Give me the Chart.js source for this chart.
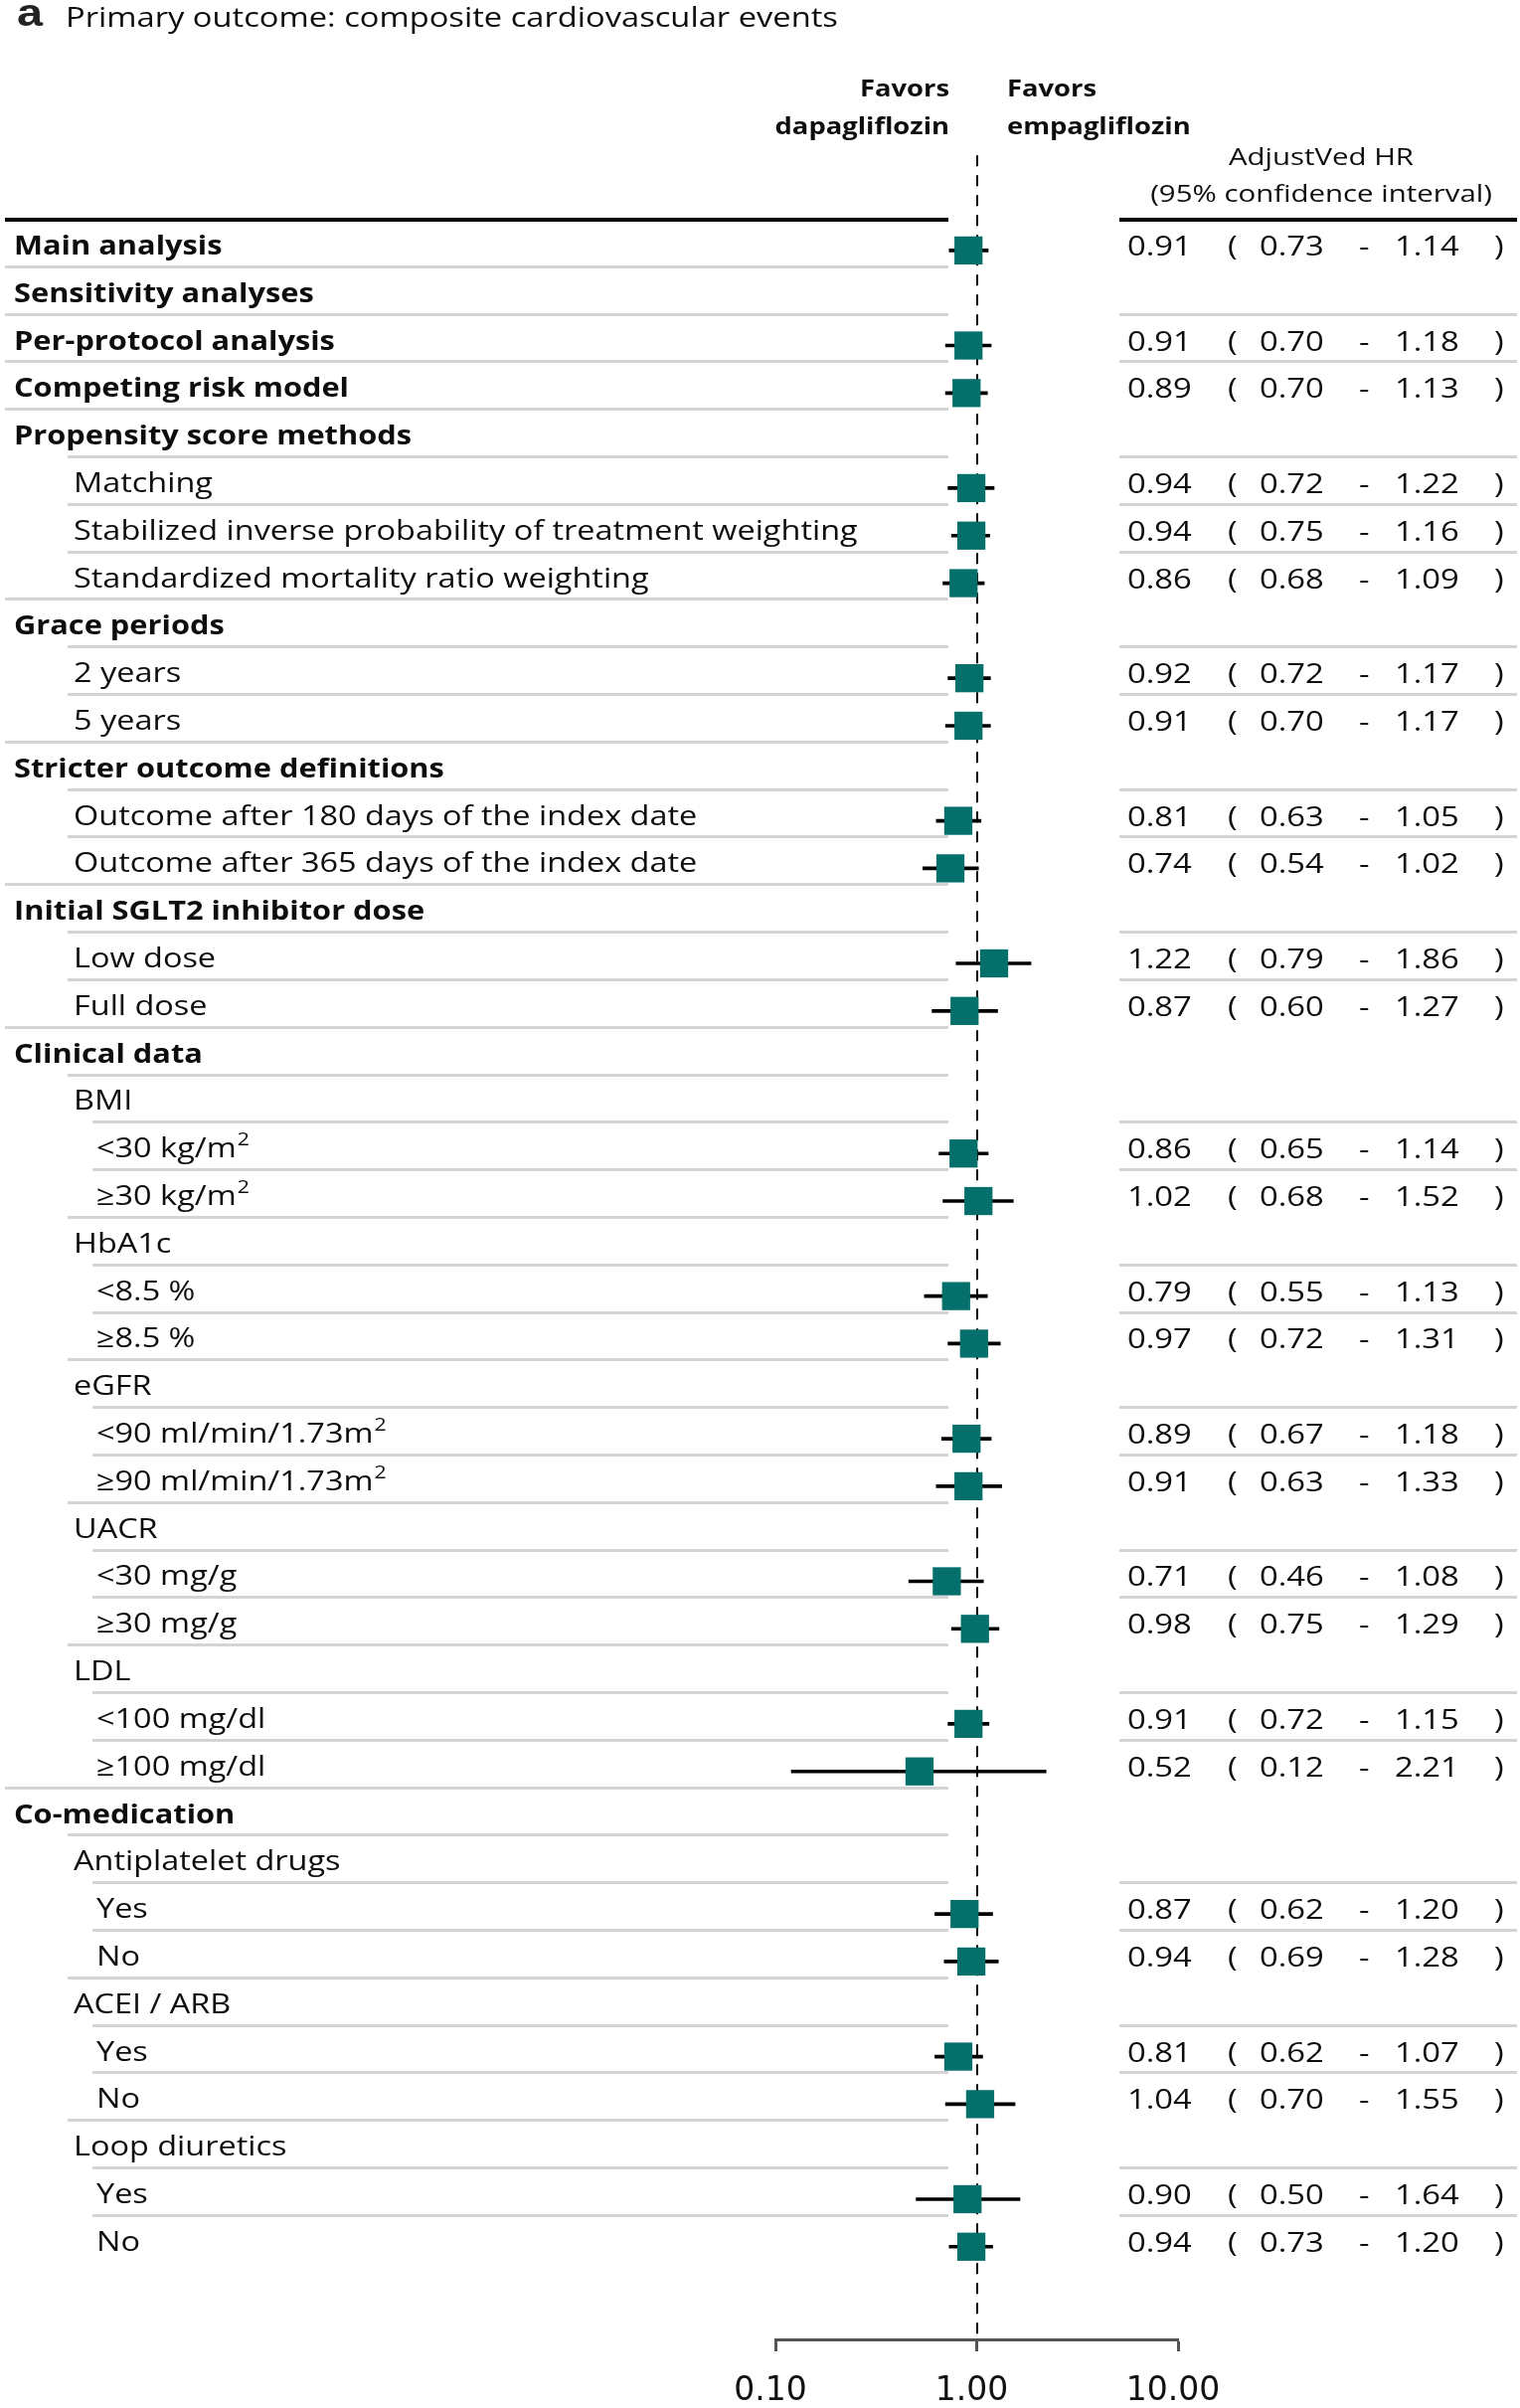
<!DOCTYPE html>
<html>
<head>
<meta charset="utf-8">
<script src="https://cdn.jsdelivr.net/npm/chart.js@4.4.0/dist/chart.umd.min.js"></script>
<style>
html, body { margin: 0; padding: 0; background: #fff; }
#wrap { width: 1529px; height: 2422px; position: relative; }
</style>
</head>
<body>
<div id="wrap"><canvas id="c" width="1529" height="2422"></canvas></div>
<script>
// ---------------- DATA ----------------
const panelLetter = 'a';
const titleText = 'Primary outcome: composite cardiovascular events';
const leftHeader = ['Favors', 'dapagliflozin'];
const rightHeader = ['Favors', 'empagliflozin'];
const columnHeader = ['AdjustVed HR', '(95% confidence interval)'];

const rowLabels = [
  'Main analysis',
  'Sensitivity analyses',
  'Per-protocol analysis',
  'Competing risk model',
  'Propensity score methods',
  'Matching',
  'Stabilized inverse probability of treatment weighting',
  'Standardized mortality ratio weighting',
  'Grace periods',
  '2 years',
  '5 years',
  'Stricter outcome definitions',
  'Outcome after 180 days of the index date',
  'Outcome after 365 days of the index date',
  'Initial SGLT2 inhibitor dose',
  'Low dose',
  'Full dose',
  'Clinical data',
  'BMI',
  '<30 kg/m²',
  '≥30 kg/m²',
  'HbA1c',
  '<8.5 %',
  '≥8.5 %',
  'eGFR',
  '<90 ml/min/1.73m²',
  '≥90 ml/min/1.73m²',
  'UACR',
  '<30 mg/g',
  '≥30 mg/g',
  'LDL',
  '<100 mg/dl',
  '≥100 mg/dl',
  'Co-medication',
  'Antiplatelet drugs',
  'Yes',
  'No',
  'ACEI / ARB',
  'Yes',
  'No',
  'Loop diuretics',
  'Yes',
  'No'
];
// hierarchy level of each row (0 = heading, 1 = sub-item, 2 = sub-sub-item)
const rowLevels = [0,0,0,0,0,1,1,1,0,1,1,0,1,1,0,1,1,0,1,2,2,1,2,2,1,2,2,1,2,2,1,2,2,0,1,2,2,1,2,2,1,2,2];

const hrValues = [0.91,null,0.91,0.89,null,0.94,0.94,0.86,null,0.92,0.91,null,0.81,0.74,null,1.22,0.87,null,null,0.86,1.02,null,0.79,0.97,null,0.89,0.91,null,0.71,0.98,null,0.91,0.52,null,null,0.87,0.94,null,0.81,1.04,null,0.90,0.94];
const ciLower  = [0.73,null,0.70,0.70,null,0.72,0.75,0.68,null,0.72,0.70,null,0.63,0.54,null,0.79,0.60,null,null,0.65,0.68,null,0.55,0.72,null,0.67,0.63,null,0.46,0.75,null,0.72,0.12,null,null,0.62,0.69,null,0.62,0.70,null,0.50,0.73];
const ciUpper  = [1.14,null,1.18,1.13,null,1.22,1.16,1.09,null,1.17,1.17,null,1.05,1.02,null,1.86,1.27,null,null,1.14,1.52,null,1.13,1.31,null,1.18,1.33,null,1.08,1.29,null,1.15,2.21,null,null,1.20,1.28,null,1.07,1.55,null,1.64,1.20];

const tickValues = [0.1, 1, 10];
const tickLabels = ['0.10', '1.00', '10.00'];
const referenceValue = 1;

// ---------------- HELPERS ----------------
const FONT = '"Open Sans", sans-serif';
const SX = 1.2;            // horizontal stretch of the reference lettering
const TEXT_COLOR = '#0d0d0d';

function drawText(ctx, s, x, y, font, align, sx, color) {
  ctx.save();
  ctx.font = font;
  ctx.fillStyle = color || TEXT_COLOR;
  ctx.textAlign = align || 'left';
  ctx.textBaseline = 'alphabetic';
  ctx.translate(x, y);
  ctx.scale(sx, 1);
  ctx.fillText(s, 0, 0);
  const w = ctx.measureText(s).width * sx;
  ctx.restore();
  return w;
}

function drawLabel(ctx, s, x, y, font, sx) {
  const parts = s.split('²');
  let cx = x;
  parts.forEach((p, k) => {
    if (p.length) cx += drawText(ctx, p, cx, y, font, 'left', sx);
    if (k < parts.length - 1) {
      cx += drawText(ctx, '2', cx + 1, y - 12, '18px ' + FONT, 'left', sx) + 1;
    }
  });
}

const points = [];
const ciBars = [];
hrValues.forEach((v, i) => {
  if (v != null) {
    points.push({ x: v, y: i });
    ciBars.push({ x: [ciLower[i], ciUpper[i]], y: i });
  }
});

const textIndent = [14, 74, 97];
const sepIndent = [5, 68, 93];
const LEFT_END = 954, RIGHT_START = 1126, RIGHT_END = 1526;

const backgroundPlugin = {
  id: 'forestBackground',
  beforeDatasetsDraw(chart) {
    const ctx = chart.ctx;
    const ys = chart.scales.y, xs = chart.scales.x;
    ctx.save();
    const yTop = ys.getPixelForValue(-0.5) - 7;
    ctx.strokeStyle = '#000';
    ctx.lineWidth = 4;
    ctx.beginPath();
    ctx.moveTo(5, yTop); ctx.lineTo(LEFT_END, yTop);
    ctx.moveTo(RIGHT_START, yTop); ctx.lineTo(RIGHT_END, yTop);
    ctx.stroke();
    ctx.strokeStyle = '#d4d4d4';
    ctx.lineWidth = 3;
    for (let i = 1; i < rowLabels.length; i++) {
      const y = Math.round(ys.getPixelForValue(i - 0.5) - 8) + 0.5;
      ctx.beginPath();
      ctx.moveTo(sepIndent[rowLevels[i]], y); ctx.lineTo(LEFT_END, y);
      if (hrValues[i] != null) { ctx.moveTo(RIGHT_START, y); ctx.lineTo(RIGHT_END, y); }
      ctx.stroke();
    }
    const xr = Math.round(xs.getPixelForValue(referenceValue));
    ctx.strokeStyle = '#000';
    ctx.lineWidth = 2;
    ctx.setLineDash([11, 9]);
    ctx.beginPath();
    ctx.moveTo(xr, ys.getPixelForValue(-2));
    ctx.lineTo(xr, chart.chartArea.bottom);
    ctx.stroke();
    ctx.restore();
  }
};

const textPlugin = {
  id: 'forestText',
  afterDraw(chart) {
    const ctx = chart.ctx;
    const ys = chart.scales.y;
    ctx.save();
    ctx.font = 'bold 39px "Liberation Sans", Arial, sans-serif';
    ctx.fillStyle = '#222';
    ctx.translate(17, 26); ctx.scale(SX, 1); ctx.fillText(panelLetter, 0, 0);
    ctx.restore();
    drawText(ctx, titleText, 66, 27, '27px ' + FONT, 'left', 1.21);
    const bold = 'bold 23px ' + FONT;
    drawText(ctx, leftHeader[0], 955, 97, bold, 'right', 1.19);
    drawText(ctx, leftHeader[1], 955, 135, bold, 'right', 1.19);
    drawText(ctx, rightHeader[0], 1013, 97, bold, 'left', 1.19);
    drawText(ctx, rightHeader[1], 1013, 135, bold, 'left', 1.19);
    drawText(ctx, columnHeader[0], 1329, 166, '24.5px ' + FONT, 'center', 1.2);
    drawText(ctx, columnHeader[1], 1329, 203, '24.5px ' + FONT, 'center', 1.2);
    const numFont = '28px ' + FONT;
    const NSX = 1.17;
    rowLabels.forEach((lab, i) => {
      const yc = ys.getPixelForValue(i);
      const lvl = rowLevels[i];
      if (lvl === 0) {
        drawLabel(ctx, lab, textIndent[lvl], yc + 4, 'bold 27px ' + FONT, 1.14);
      } else {
        drawLabel(ctx, lab, textIndent[lvl], yc + 4, '27.5px ' + FONT, 1.18);
      }
      if (hrValues[i] != null) {
        const yb = yc + 5;
        drawText(ctx, hrValues[i].toFixed(2), 1134, yb, numFont, 'left', NSX);
        drawText(ctx, '(', 1235, yb, numFont, 'left', NSX);
        drawText(ctx, ciLower[i].toFixed(2), 1267, yb, numFont, 'left', NSX);
        drawText(ctx, '-', 1367, yb, numFont, 'left', NSX);
        drawText(ctx, ciUpper[i].toFixed(2), 1403, yb, numFont, 'left', NSX);
        drawText(ctx, ')', 1503, yb, numFont, 'left', NSX);
      }
    });
  }
};

new Chart(document.getElementById('c'), {
  type: 'scatter',
  data: {
    datasets: [
      {
        type: 'scatter',
        label: 'Adjusted HR',
        data: points,
        pointStyle: 'rect',
        pointRadius: 20,
        pointHoverRadius: 20,
        backgroundColor: '#046f6b',
        borderColor: '#046f6b',
        borderWidth: 0,
        order: 0
      },
      {
        type: 'bar',
        label: '95% CI',
        data: ciBars,
        indexAxis: 'y',
        backgroundColor: '#000',
        borderWidth: 0,
        barThickness: 3,
        order: 1
      }
    ]
  },
  options: {
    responsive: false,
    devicePixelRatio: 1,
    animation: false,
    events: [],
    layout: { padding: { left: 780, right: 344, top: 228, bottom: 0 } },
    plugins: { legend: { display: false }, tooltip: { enabled: false } },
    scales: {
      x: {
        type: 'logarithmic',
        position: 'bottom',
        min: 0.1,
        max: 10,
        beginAtZero: false,
        offset: false,
        afterBuildTicks: (s) => { s.ticks = tickValues.map(v => ({ value: v })); },
        afterFit: (s) => { s.height = 69; },
        ticks: {
          callback: (v, i) => tickLabels[i],
          font: { family: '"DejaVu Sans", sans-serif', size: 33 },
          color: '#111',
          padding: 21,
          labelOffset: -5,
          autoSkip: false,
          maxRotation: 0,
          minRotation: 0
        },
        grid: { drawOnChartArea: false, drawTicks: true, tickLength: 12, tickWidth: 3, tickColor: '#555', color: '#555', offset: false },
        border: { display: true, color: '#555', width: 3 }
      },
      y: {
        type: 'linear',
        reverse: true,
        min: -0.5,
        max: 43.95,
        display: false,
        offset: false,
        grid: { offset: false }
      }
    }
  },
  plugins: [backgroundPlugin, textPlugin]
});
</script>
</body>
</html>
